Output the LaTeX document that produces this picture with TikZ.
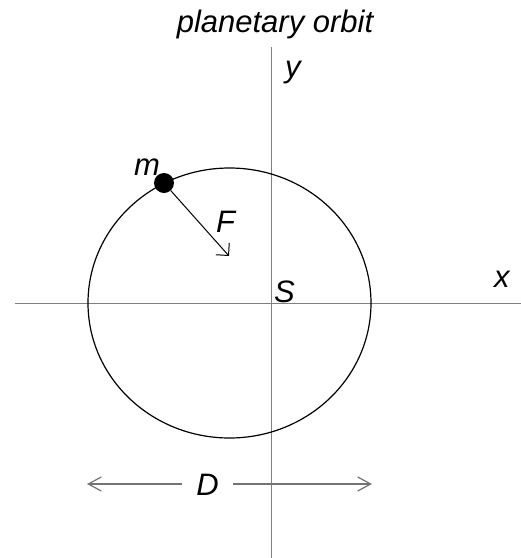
\documentclass[tikz,border=0pt]{standalone}
\usepackage{fontspec}
\setmainfont{Liberation Sans}
\usetikzlibrary{arrows.meta}
\tikzset{
  axis/.style={draw=black!50, line width=1.4pt},
  orbit/.style={draw=black, line width=1.2pt},
  lbl/.style={font=\fontsize{31}{36}\selectfont\itshape, inner sep=0pt, anchor=base west},
  planet/.style={circle, fill=black, minimum size=20pt, inner sep=0pt},
  force/.style={draw=black, line width=1pt, -{Straight Barb[length=9pt,width=18pt]}},
  dimline/.style={draw=black!55, line width=1.2pt, -{Straight Barb[length=13pt,width=14pt]}},
}

\begin{document}
\begin{tikzpicture}[x=1pt, y=-1pt]
  \useasboundingbox (0,0) rectangle (521,558);
  % axes
  \coordinate (xl) at (15,303.5);
  \coordinate (xr) at (521,303.5);
  \coordinate (yt) at (271.7,47);
  \coordinate (yb) at (271.7,558);
  \draw[axis] (xl) -- (xr);
  \draw[axis] (yt) -- (yb);
  % orbit and planet
  \coordinate (C) at (229.5,303);
  \draw[orbit] (C) ellipse [x radius=141.5pt, y radius=135pt];
  \node[planet] (m) at (164,183) {};
  \coordinate (Ftip) at (229,256);
  \draw[force] (m) -- (Ftip);
  % labels
  \node[lbl, anchor=base] (title) at (275,32) {planetary orbit};
  \node[lbl] (mlab) at (134,175) {m};
  \node[lbl] (Flab) at (216,232) {F};
  \node[lbl] (Slab) at (274,302.5) {S};
  \node[lbl] (xlab) at (494,287) {x};
  \node[lbl] (ylab) at (285,77) {y};
  % width of orbit
  \node[lbl, anchor=base, inner xsep=14pt] (Dlab) at (207.5,495) {D};
  \coordinate (Dl) at (87,484);
  \coordinate (Dr) at (372,484);
  \draw[dimline] (Dlab.west |- Dl) -- (Dl);
  \draw[dimline] (Dlab.east |- Dr) -- (Dr);
\end{tikzpicture}
\end{document}
